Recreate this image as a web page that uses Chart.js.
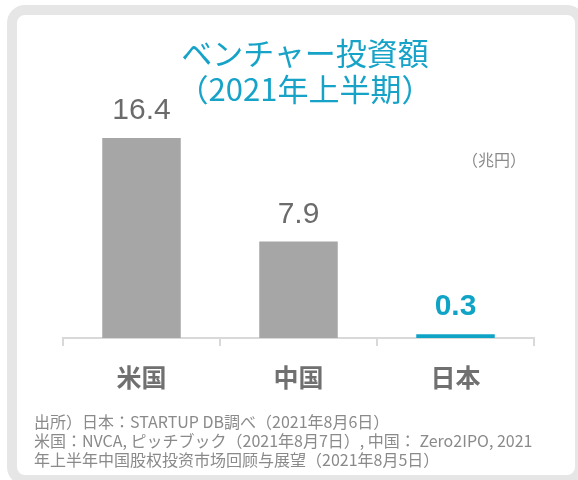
<!DOCTYPE html>
<html>
<head>
<meta charset="utf-8">
<script src="https://cdn.jsdelivr.net/npm/chart.js@4/dist/chart.umd.min.js"></script>
<style>
  html, body { margin: 0; padding: 0; background: #fff; }
  body { width: 578px; height: 480px; position: relative; overflow: hidden; font-family: "Noto Sans CJK JP", "Noto Sans", sans-serif; }
  .frame { position: absolute; left: 7px; top: 5px; width: 558px; height: 460px; border: 10px solid #e6e6e6; border-radius: 18px; box-sizing: content-box; background: #fff; }
  #wrap { position: absolute; left: 0; top: 0; width: 578px; height: 480px; }
  .title { position: absolute; left: 155px; width: 300px; text-align: center; color: #17a3c8; font-size: 31px; line-height: 36px; top: 34px; }
  .unit { position: absolute; left: 462px; top: 147px; color: #8a8a8a; font-size: 16px; }
  .note { position: absolute; left: 34px; top: 412px; color: #8a8a8a; font-size: 16px; line-height: 19px; white-space: nowrap; }
</style>
</head>
<body>
<div class="frame"></div>
<div id="wrap"><canvas id="chart"></canvas></div>
<div class="title">ベンチャー投資額<br>（2021年上半期）</div>
<div class="unit">（兆円）</div>
<div class="note">出所）日本：STARTUP DB調べ（2021年8月6日）<br>米国：NVCA, ピッチブック（2021年8月7日）, 中国： Zero2IPO, 2021<br>年上半年中国股权投资市场回顾与展望（2021年8月5日）</div>
<script>
// データ
const categories = ['米国', '中国', '日本'];
const values = [16.4, 7.9, 0.3];
const labelTexts = ['16.4', '7.9', '0.3'];

const GRAY = '#a6a6a6';
const CYAN = '#0fa3c6';
const barColors = [GRAY, GRAY, CYAN];

// 棒の上に数値を描く
const valueLabels = {
    id: 'valueLabels',
    afterDatasetsDraw(chart) {
        const ctx = chart.ctx;
        const meta = chart.getDatasetMeta(0);
        ctx.save();
        ctx.textAlign = 'center';
        ctx.textBaseline = 'alphabetic';
        meta.data.forEach((bar, i) => {
            const highlight = i === 2;
            ctx.font = (highlight ? 'bold ' : '') + '30px "Liberation Sans", Arial, sans-serif';
            ctx.fillStyle = highlight ? CYAN : '#6b6b6b';
            ctx.fillText(labelTexts[i], bar.x, bar.y - 19);
        });
        ctx.restore();
    }
};

const ctx = document.getElementById('chart').getContext('2d');
new Chart(ctx, {
    type: 'bar',
    data: {
        labels: categories,
        datasets: [{ data: values, backgroundColor: barColors, borderWidth: 0, barPercentage: 0.5, categoryPercentage: 1.0 }]
    },
    options: {
        responsive: true,
        maintainAspectRatio: false,
        animation: false,
        layout: { padding: { left: 63, right: 44, top: 94, bottom: 72 } },
        plugins: { legend: { display: false }, tooltip: { enabled: false } },
        scales: {
            x: {
                grid: { display: true, offset: true, drawOnChartArea: false, drawTicks: true, tickLength: 8, color: '#d9d9d9', lineWidth: 2 },
                border: { display: true, color: '#d9d9d9', width: 2 },
                ticks: { color: '#707070', padding: 16, font: { family: '"Noto Sans CJK JP", sans-serif', size: 25, weight: 'bold', lineHeight: 1.2 } }
            },
            y: { display: false, min: 0, max: 20 }
        }
    },
    plugins: [valueLabels]
});
</script>
</body>
</html>
